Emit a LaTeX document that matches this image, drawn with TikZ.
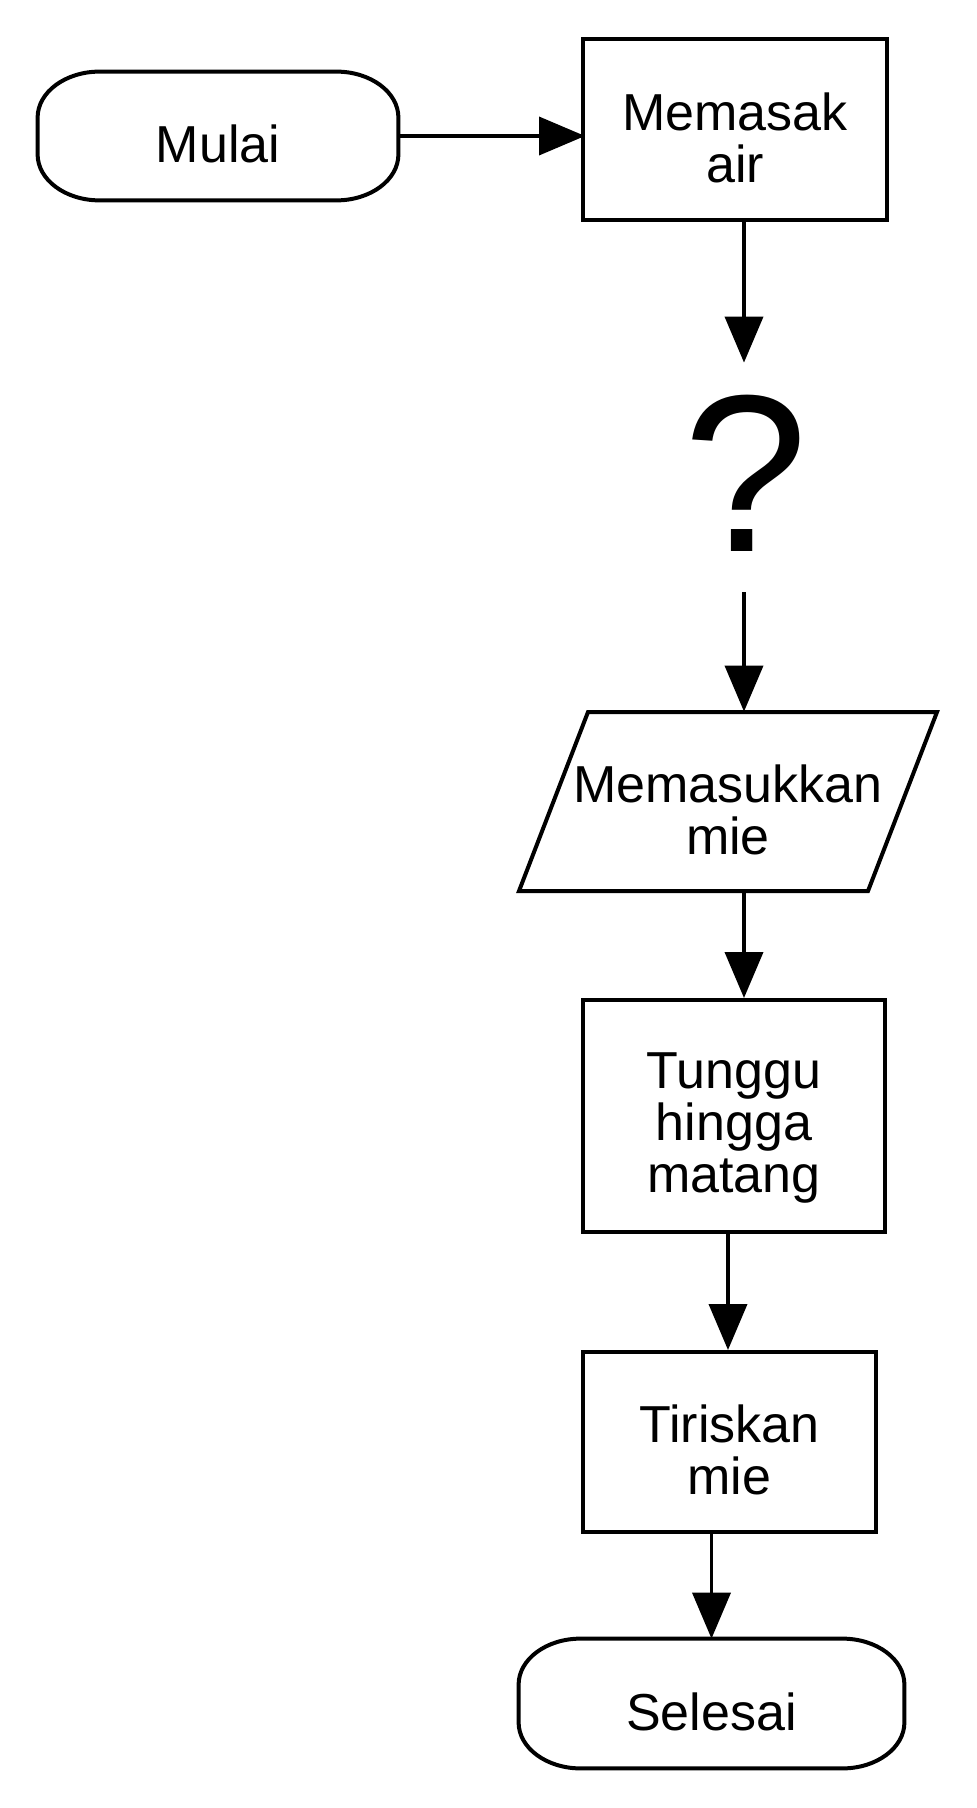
\documentclass[tikz,border=0pt]{standalone}
\usepackage{fontspec}
\setmainfont{Liberation Sans}
\usetikzlibrary{arrows.meta}
\tikzset{
  box/.style={draw, line width=2pt, inner sep=0pt, rectangle},
  hidden/.style={draw=none, inner sep=0pt, rectangle},
  txt/.style={font=\fontsize{26pt}{26pt}\selectfont, align=center, inner sep=0pt},
  qtxt/.style={font=\fontsize{112pt}{112pt}\selectfont, inner sep=0pt},
  arr/.style={line width=1.9pt, -{Triangle[length=23pt, width=19pt]}},
  outline/.style={line width=2pt},
}
\newcommand\termshape[1]{%
  \draw[outline] ([xshift=31pt]#1.north west) -- ([xshift=-31pt]#1.north east)
    arc[start angle=90, end angle=0, x radius=31pt, y radius=23pt]
    -- ([yshift=23pt]#1.south east)
    arc[start angle=0, end angle=-90, x radius=31pt, y radius=23pt]
    -- ([xshift=31pt]#1.south west)
    arc[start angle=-90, end angle=-180, x radius=31pt, y radius=23pt]
    -- ([yshift=-23pt]#1.north west)
    arc[start angle=180, end angle=90, x radius=31pt, y radius=23pt]
    -- cycle;}
\begin{document}
\begin{tikzpicture}[x=0.5pt, y=0.5pt]
\useasboundingbox[fill=white] (0,0) rectangle (976,-1808);

\node[hidden, minimum width=180pt, minimum height=64pt,
      label={[txt, yshift=-4pt]center:Mulai}] (mulai) at (218,-136) {};
\termshape{mulai}

\node[box, minimum width=152pt, minimum height=90.5pt,
      label={[txt, yshift=-4pt]center:{Memasak\\air}}] (memasak) at (735,-129.5) {};

\node[hidden, minimum width=55pt, minimum height=114.5pt,
      label={[qtxt, xshift=1pt, yshift=2pt]center:?}] (q) at (744,-477.5) {};

\node[hidden, minimum width=140pt, minimum height=89.5pt,
      label={[txt, yshift=-4pt]center:{Memasukkan\\mie}}] (masuk) at (728,-801.5) {};
\draw[outline] ([shift={(-70pt,44.75pt)}]masuk.center) -- ([shift={(104.5pt,44.75pt)}]masuk.center)
  -- ([shift={(70pt,-44.75pt)}]masuk.center) -- ([shift={(-104.5pt,-44.75pt)}]masuk.center) -- cycle;

\node[box, minimum width=151pt, minimum height=116pt,
      label={[txt, yshift=-6pt]center:{Tunggu\\hingga\\matang}}] (tunggu) at (734,-1116) {};

\node[box, minimum width=146.5pt, minimum height=90pt,
      label={[txt, yshift=-4pt]center:{Tiriskan\\mie}}] (tiriskan) at (729.5,-1442) {};

\node[hidden, minimum width=192.5pt, minimum height=64.5pt,
      label={[txt, yshift=-4pt]center:Selesai}] (selesai) at (711.5,-1703.5) {};
\termshape{selesai}

\draw[arr, shorten >=-2pt] (mulai.east) -- (mulai.east -| memasak.west);
\draw[arr] (memasak.south -| q) -- (q.north);
\draw[arr] (q.south) -- (masuk.north -| q);
\draw[arr] (masuk.south -| q) -- (tunggu.north -| q);
\draw[arr] (tunggu.south -| masuk) -- (tiriskan.north -| masuk);
\draw[arr] (tiriskan.south -| selesai) -- (selesai.north);
\end{tikzpicture}
\end{document}
